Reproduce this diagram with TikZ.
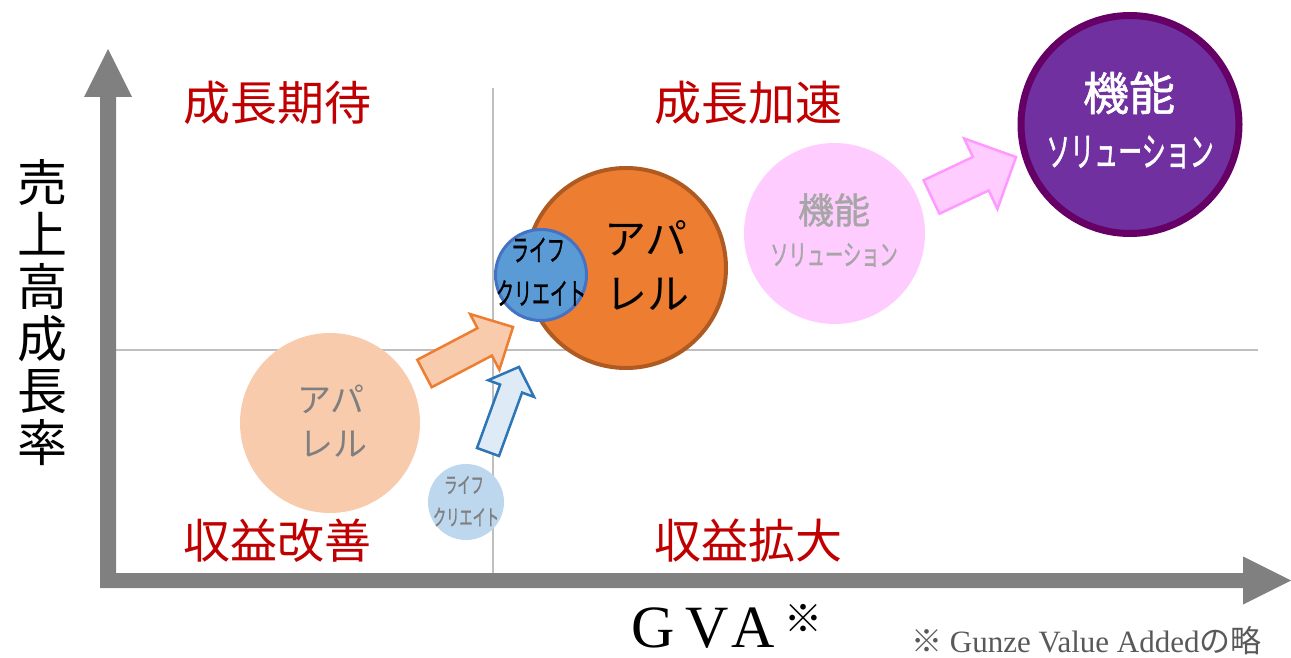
\documentclass[tikz,border=0pt]{standalone}
\usepackage{fontspec}
\setmainfont{Liberation Serif}
\newfontfamily\jp{Noto Sans CJK JP}
\newfontfamily\jpb[FakeBold=1.2]{Noto Sans CJK JP}
\newfontfamily\jpc[FakeStretch=0.6,FakeBold=1]{Noto Sans CJK JP}
\newfontfamily\jpd[FakeStretch=0.63,FakeBold=1]{Noto Sans CJK JP}
\newcommand\fsz[2]{\fontsize{#1}{#2}\selectfont}
\definecolor{axisgray}{HTML}{808080}
\definecolor{gridgray}{HTML}{BFBFBF}
\definecolor{qred}{HTML}{C00000}
\definecolor{orng}{HTML}{ED7D31}
\definecolor{orngdark}{HTML}{AE5A21}
\definecolor{orngpale}{HTML}{F8CBAD}
\definecolor{blu}{HTML}{5B9BD5}
\definecolor{bludark}{HTML}{4472C4}
\definecolor{blupale}{HTML}{BDD7EE}
\definecolor{bluarrow}{HTML}{DEEBF7}
\definecolor{bluarrowdark}{HTML}{2E75B6}
\definecolor{pnk}{HTML}{FFCCFF}
\definecolor{pnkdark}{HTML}{FF99FF}
\definecolor{purp}{HTML}{7030A0}
\definecolor{purpdark}{HTML}{660066}
\definecolor{txtgray}{HTML}{7F7F7F}
\definecolor{txtlgray}{HTML}{A6A6A6}
\definecolor{notegray}{HTML}{595959}
\tikzset{
  bubble/.style={circle, inner sep=0pt},
  quad/.style={font=\jp\fsz{47}{50}, text=qred, inner sep=0pt},
  lbl/.style={inner sep=0pt},
}
\begin{document}
\begin{tikzpicture}[x=1pt, y=-1pt]
\useasboundingbox (0,0) rectangle (1291,658);
% grid lines
\draw[gridgray, line width=1.5pt] (493,88) -- (493,573);
\draw[gridgray, line width=1.5pt] (116,350) -- (1258,350);
% axes
\fill[axisgray] (100,97) -- (84,97) -- (108,49) -- (132,97) -- (116,97) -- (116,573) -- (1243,573) -- (1243,556.5) -- (1291,580.5) -- (1243,604.5) -- (1243,588) -- (100,588) -- cycle;
% quadrant labels
\node[quad] (q1) at (277,103) {成長期待};
\node[quad] (q2) at (748,103) {成長加速};
\node[quad] (q3) at (277,541) {収益改善};
\node[quad] (q4) at (748,541) {収益拡大};
% axis labels
\node[lbl, align=center, font=\jp\fsz{50}{52}] (ylab) at (42,312.5) {売\\上\\高\\成\\長\\率};
\node[lbl, anchor=base west, text depth=0pt, font=\fsz{60}{60}] (gva) at (631,647) {\addfontfeature{LetterSpace=18}GVA};
\node[lbl, font=\jp\fsz{38}{38}] (kome) at (803,618) {※};
\node[lbl, anchor=base west, text depth=0pt, text=notegray, font=\fsz{31}{31}] (note) at (911,652) {{\jp ※} Gunze Value Added{\jp の略}};
% faded circles
\node[bubble, fill=orngpale, minimum size=180pt] (apold) at (330,423) {};
\node[lbl, text=txtgray, font=\jp\fsz{34}{34}] (apold1) at (331,399) {アパ};
\node[lbl, text=txtgray, font=\jp\fsz{34}{34}] (apold2) at (333,444) {レル};
\node[bubble, fill=blupale, minimum size=76pt] (lcold) at (466,502) {};
\node[lbl, text=txtgray, font=\jpc\fsz{22}{22}] (lcold1) at (464,485) {ライフ};
\node[lbl, text=txtgray, font=\jpc\fsz{22}{22}] (lcold2) at (466,517) {クリエイト};
\node[bubble, fill=pnk, minimum size=181pt] (fsold) at (834.5,233.5) {};
\node[lbl, text=txtlgray, font=\jpb\fsz{36}{36}] (fsold1) at (834,210) {機能};
\node[lbl, text=txtlgray, font=\jpd\fsz{29}{29}] (fsold2) at (834,255) {ソリューション};
% block arrows
\begin{scope}[shift={(424.5,373.5)}, rotate=27.7]
\draw[fill=orngpale, draw=orng, line width=2.5pt, line join=miter]
  (0,-15.5) -- (68,-15.5) -- (68,-31.5) -- (100,0) -- (68,31.5) -- (68,15.5) -- (0,15.5) -- cycle;
\end{scope}
\begin{scope}[shift={(488,452)}, rotate=70]
\draw[fill=bluarrow, draw=bluarrowdark, line width=2.5pt, line join=miter]
  (0,-11.7) -- (67.5,-11.7) -- (67.5,-24.4) -- (90.5,0) -- (67.5,24.4) -- (67.5,11.7) -- (0,11.7) -- cycle;
\end{scope}
\begin{scope}[shift={(931.5,197)}, rotate=25.3]
\draw[fill=pnk, draw=pnkdark, line width=2.5pt, line join=miter]
  (0,-18.5) -- (54.5,-18.5) -- (54.5,-39) -- (93.5,0) -- (54.5,39) -- (54.5,18.5) -- (0,18.5) -- cycle;
\end{scope}
% main circles
\node[bubble, fill=orng, draw=orngdark, line width=4pt, minimum size=200pt] (ap) at (626,268) {};
\node[lbl, font=\jp\fsz{42}{42}] (ap1) at (646,238) {アパ};
\node[lbl, font=\jp\fsz{42}{42}] (ap2) at (647,294) {レル};
\node[bubble, fill=blu, draw=bludark, line width=3pt, minimum size=91pt] (lc) at (541,275) {};
\node[lbl, font=\jpc\fsz{30}{30}] (lc1) at (538,250) {ライフ};
\node[lbl, font=\jpc\fsz{30}{30}] (lc2) at (541,293) {クリエイト};
\node[bubble, fill=purp, draw=purpdark, line width=7pt, minimum size=218pt] (fs) at (1130,124.5) {};
\node[lbl, text=white, font=\jpb\fsz{46}{46}] (fs1) at (1129,93) {機能};
\node[lbl, text=white, font=\jpc\fsz{40}{40}] (fs2) at (1130,152) {ソリューション};
\end{tikzpicture}
\end{document}
